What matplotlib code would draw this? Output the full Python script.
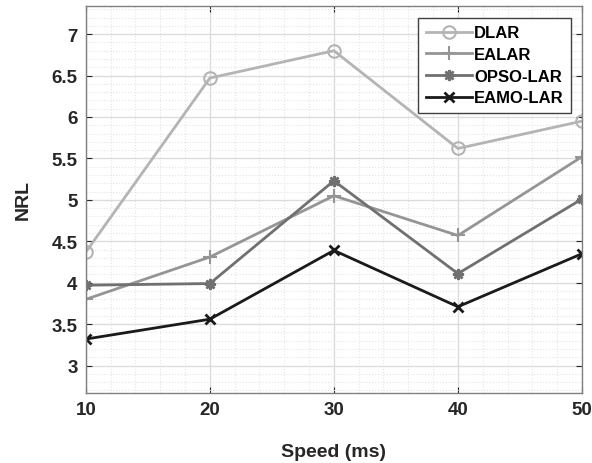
import numpy as np
import matplotlib.pyplot as plt
from matplotlib.ticker import MultipleLocator

plt.rcParams['font.family'] = ['Liberation Sans', 'DejaVu Sans']

speed = [10, 20, 30, 40, 50]
dlar = [4.37, 6.47, 6.80, 5.62, 5.95]
ealar = [3.80, 4.31, 5.05, 4.57, 5.52]
opso_lar = [3.97, 3.99, 5.23, 4.11, 5.01]
eamo_lar = [3.32, 3.56, 4.39, 3.71, 4.35]

fig = plt.figure(figsize=(5.92, 4.64), dpi=100)
ax = fig.add_axes([0.145, 0.151, 0.838, 0.834])

ax.plot(speed, dlar, color='#b4b4b4', lw=2, marker='o', ms=9, mfc='none', mew=1.5, label='DLAR')
ax.plot(speed, ealar, color='#959595', lw=2, marker='+', ms=10, mew=1.5, label='EALAR')
ax.plot(speed, opso_lar, color='#707070', lw=2, marker=(8, 2, 0), ms=8, mew=1.8, label='OPSO-LAR')
ax.plot(speed, eamo_lar, color='#1a1a1a', lw=2, marker='x', ms=7, mew=2, label='EAMO-LAR')

ax.set_xlim(10, 50)
ax.set_ylim(2.67, 7.34)
ax.xaxis.set_major_locator(MultipleLocator(10))
ax.xaxis.set_minor_locator(MultipleLocator(2))
ax.yaxis.set_minor_locator(MultipleLocator(0.1))
ax.set_yticks([3, 3.5, 4, 4.5, 5, 5.5, 6, 6.5, 7])
ax.set_yticklabels(['3', '3.5', '4', '4.5', '5', '5.5', '6', '6.5', '7'])

ax.grid(which='major', color='#dcdcdc', lw=1, ls='-')
ax.grid(which='minor', color='#e4e4e4', lw=0.8, ls=':')
ax.set_axisbelow(True)

ax.tick_params(which='both', direction='in', top=True, right=True, labelsize=13.5, colors='#262626')
ax.tick_params(which='minor', length=0)
ax.tick_params(which='major', length=4, pad=6)
for lab in ax.get_xticklabels() + ax.get_yticklabels():
    lab.set_fontweight('bold')
for s in ax.spines.values():
    s.set_color('#808080')
    s.set_linewidth(1)

ax.set_xlabel('Speed (ms)', fontsize=14, fontweight='bold', labelpad=18, color='#262626')
ax.set_ylabel('NRL', fontsize=14, fontweight='bold', labelpad=14, color='#262626')

leg = ax.legend(loc='upper right', bbox_to_anchor=(0.978, 0.969), fancybox=False, framealpha=1,
                edgecolor='#404040', prop={'weight': 'bold', 'size': 12}, handlelength=2.8,
                borderpad=0.45, labelspacing=0.4, handletextpad=0.1, borderaxespad=0)
leg.get_frame().set_linewidth(1)

fig.savefig('out.png', dpi=100)
